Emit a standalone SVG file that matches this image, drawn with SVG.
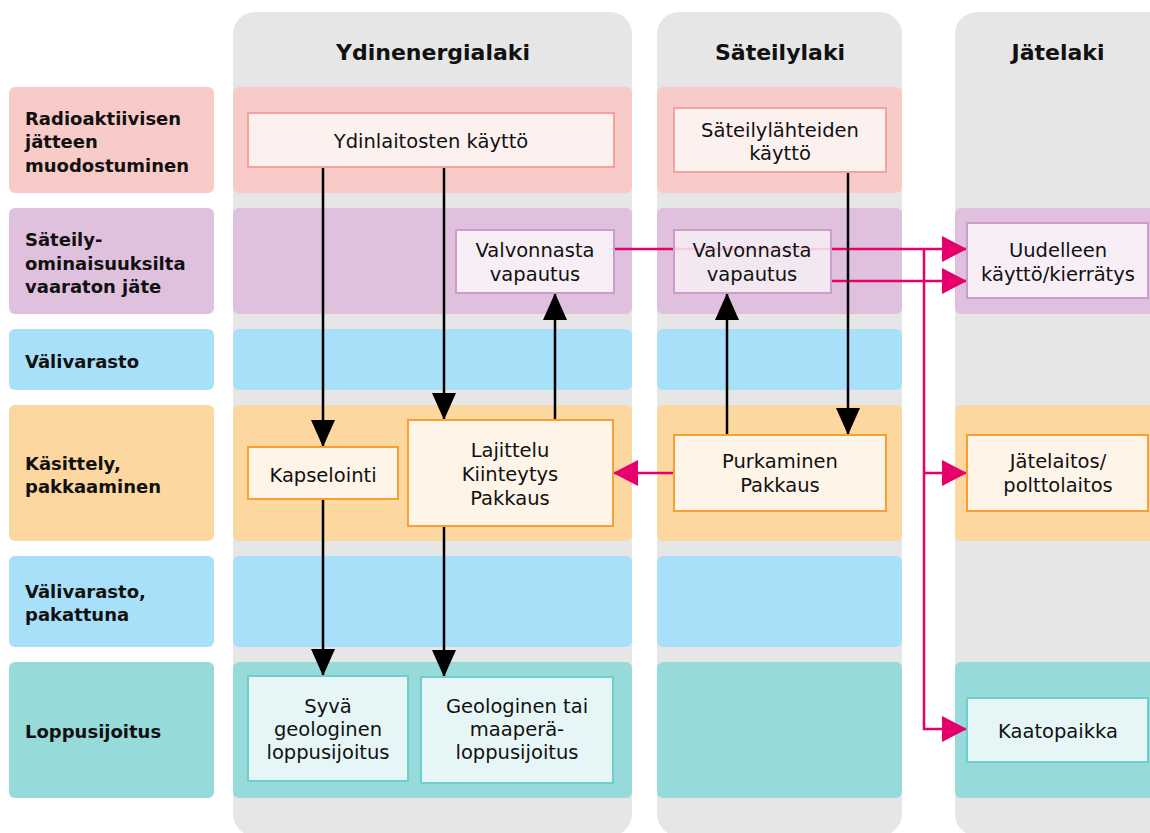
<svg xmlns="http://www.w3.org/2000/svg" width="1150" height="833" viewBox="0 0 1150 833">
<style>
.col{fill:#e6e6e6}
.pk{fill:#f9cbc8}.pu{fill:#dfc0dd}.bl{fill:#a8e0f9}.or{fill:#fdd7a0}.te{fill:#97dada}
.hd{font-family:"DejaVu Sans",Lato,sans-serif;font-weight:bold;font-size:22px;fill:#111;text-anchor:middle}
.lb{font-family:"DejaVu Sans",Lato,sans-serif;font-weight:bold;font-size:18px;fill:#111}
.tx{font-family:"DejaVu Sans",Lato,sans-serif;font-size:19.5px;fill:#111;text-anchor:middle}
.npk{fill:#fdf1f0;stroke:#f6a29c;stroke-width:2}
.npu{fill:#f7eef6;stroke:#cd9ccb;stroke-width:2}
.nor{fill:#fef4e8;stroke:#f8a033;stroke-width:2}
.nte{fill:#e6f6f6;stroke:#6ccfcb;stroke-width:2}
.bk{stroke:#000;stroke-width:2.5;fill:none}
.mg{stroke:#e5006e;stroke-width:2.5;fill:none}
</style>
<defs>
<marker id="ab" viewBox="0 0 27 24" refX="27" refY="12" markerWidth="27" markerHeight="24" markerUnits="userSpaceOnUse" orient="auto"><path d="M0,0 L27,12 L0,24 Z" fill="#000"/></marker>
<marker id="am" viewBox="0 0 25 26" refX="25" refY="13" markerWidth="25" markerHeight="26" markerUnits="userSpaceOnUse" orient="auto"><path d="M0,0 L25,13 L0,26 Z" fill="#e5006e"/></marker>
</defs>
<rect width="1150" height="833" fill="#fff"/>
<g id="columns">
<rect class="col" x="233" y="12" width="399" height="824" rx="22"/>
<rect class="col" x="657" y="12" width="245" height="824" rx="22"/>
<rect class="col" x="955" y="12" width="220" height="824" rx="22"/>
<text class="hd" x="433" y="60">Ydinenergialaki</text>
<text class="hd" x="780" y="60">Säteilylaki</text>
<text class="hd" x="1058" y="60">Jätelaki</text>
</g>
<g id="rows">
<rect class="pk" x="9" y="87" width="205" height="106" rx="6"/>
<rect class="pk" x="233" y="87" width="399" height="106" rx="6"/>
<rect class="pk" x="657" y="87" width="245" height="106" rx="6"/>
<rect class="pu" x="9" y="208" width="205" height="106" rx="6"/>
<rect class="pu" x="233" y="208" width="399" height="106" rx="6"/>
<rect class="pu" x="657" y="208" width="245" height="106" rx="6"/>
<rect class="pu" x="955" y="208" width="220" height="106" rx="6"/>
<rect class="bl" x="9" y="329" width="205" height="61" rx="6"/>
<rect class="bl" x="233" y="329" width="399" height="61" rx="6"/>
<rect class="bl" x="657" y="329" width="245" height="61" rx="6"/>
<rect class="or" x="9" y="405" width="205" height="136" rx="6"/>
<rect class="or" x="233" y="405" width="399" height="136" rx="6"/>
<rect class="or" x="657" y="405" width="245" height="136" rx="6"/>
<rect class="or" x="955" y="405" width="220" height="136" rx="6"/>
<rect class="bl" x="9" y="556" width="205" height="91" rx="6"/>
<rect class="bl" x="233" y="556" width="399" height="91" rx="6"/>
<rect class="bl" x="657" y="556" width="245" height="91" rx="6"/>
<rect class="te" x="9" y="662" width="205" height="136" rx="6"/>
<rect class="te" x="233" y="662" width="399" height="136" rx="6"/>
<rect class="te" x="657" y="662" width="245" height="136" rx="6"/>
<rect class="te" x="955" y="662" width="220" height="136" rx="6"/>
<text class="lb" x="25" y="125">Radioaktiivisen</text>
<text class="lb" x="25" y="148">jätteen</text>
<text class="lb" x="25" y="172">muodostuminen</text>
<text class="lb" x="25" y="246">Säteily-</text>
<text class="lb" x="25" y="270">ominaisuuksilta</text>
<text class="lb" x="25" y="293">vaaraton jäte</text>
<text class="lb" x="25" y="368">Välivarasto</text>
<text class="lb" x="25" y="470">Käsittely,</text>
<text class="lb" x="25" y="493">pakkaaminen</text>
<text class="lb" x="25" y="598">Välivarasto,</text>
<text class="lb" x="25" y="621">pakattuna</text>
<text class="lb" x="25" y="738">Loppusijoitus</text>
</g>
<g id="connectors">
<path class="mg" d="M614,249 H967" marker-end="url(#am)"/>
<path class="mg" d="M831,281 H967" marker-end="url(#am)"/>
<path class="mg" d="M924,249 V729 H967" marker-end="url(#am)"/>
<path class="mg" d="M924,473 H967" marker-end="url(#am)"/>
<path class="mg" d="M674,473 H613" marker-end="url(#am)"/>
<path class="bk" d="M323,167 V447" marker-end="url(#ab)"/>
<path class="bk" d="M444,167 V420" marker-end="url(#ab)"/>
<path class="bk" d="M555,420 V293" marker-end="url(#ab)"/>
<path class="bk" d="M848,172 V435" marker-end="url(#ab)"/>
<path class="bk" d="M727,435 V293" marker-end="url(#ab)"/>
<path class="bk" d="M323,499 V676" marker-end="url(#ab)"/>
<path class="bk" d="M444,526 V677" marker-end="url(#ab)"/>
</g>
<g id="n-ydinlaitosten">
<rect class="npk" x="248" y="113" width="366" height="54"/>
<text class="tx" x="431" y="148">Ydinlaitosten käyttö</text>
</g>
<g id="n-sateilylahteiden">
<rect class="npk" x="674" y="108" width="212" height="64"/>
<text class="tx" x="780" y="137">Säteilylähteiden</text>
<text class="tx" x="780" y="160">käyttö</text>
</g>
<g id="n-valvonnasta1">
<rect class="npu" x="456" y="230" width="158" height="63"/>
<text class="tx" x="535" y="257">Valvonnasta</text>
<text class="tx" x="535" y="281">vapautus</text>
</g>
<g id="n-valvonnasta2">
<rect class="npu" x="674" y="230" width="157" height="63" fill-opacity="0.85"/>
<text class="tx" x="752" y="257">Valvonnasta</text>
<text class="tx" x="752" y="281">vapautus</text>
</g>
<g id="n-uudelleen">
<rect class="npu" x="967" y="223" width="181" height="75"/>
<text class="tx" x="1058" y="257">Uudelleen</text>
<text class="tx" x="1058" y="281">käyttö/kierrätys</text>
</g>
<g id="n-kapselointi">
<rect class="nor" x="248" y="447" width="150" height="52"/>
<text class="tx" x="323" y="482">Kapselointi</text>
</g>
<g id="n-lajittelu">
<rect class="nor" x="408" y="420" width="205" height="106"/>
<text class="tx" x="510" y="457">Lajittelu</text>
<text class="tx" x="510" y="481">Kiinteytys</text>
<text class="tx" x="510" y="505">Pakkaus</text>
</g>
<g id="n-purkaminen">
<rect class="nor" x="674" y="435" width="212" height="76"/>
<text class="tx" x="780" y="468">Purkaminen</text>
<text class="tx" x="780" y="492">Pakkaus</text>
</g>
<g id="n-jatelaitos">
<rect class="nor" x="967" y="435" width="181" height="76"/>
<text class="tx" x="1058" y="468">Jätelaitos/</text>
<text class="tx" x="1058" y="492">polttolaitos</text>
</g>
<g id="n-syva">
<rect class="nte" x="248" y="676" width="160" height="105"/>
<text class="tx" x="328" y="713">Syvä</text>
<text class="tx" x="328" y="736">geologinen</text>
<text class="tx" x="328" y="759">loppusijoitus</text>
</g>
<g id="n-geologinen">
<rect class="nte" x="421" y="677" width="192" height="106"/>
<text class="tx" x="517" y="713">Geologinen tai</text>
<text class="tx" x="517" y="736">maaperä-</text>
<text class="tx" x="517" y="759">loppusijoitus</text>
</g>
<g id="n-kaatopaikka">
<rect class="nte" x="967" y="698" width="181" height="64"/>
<text class="tx" x="1058" y="738">Kaatopaikka</text>
</g>
</svg>
